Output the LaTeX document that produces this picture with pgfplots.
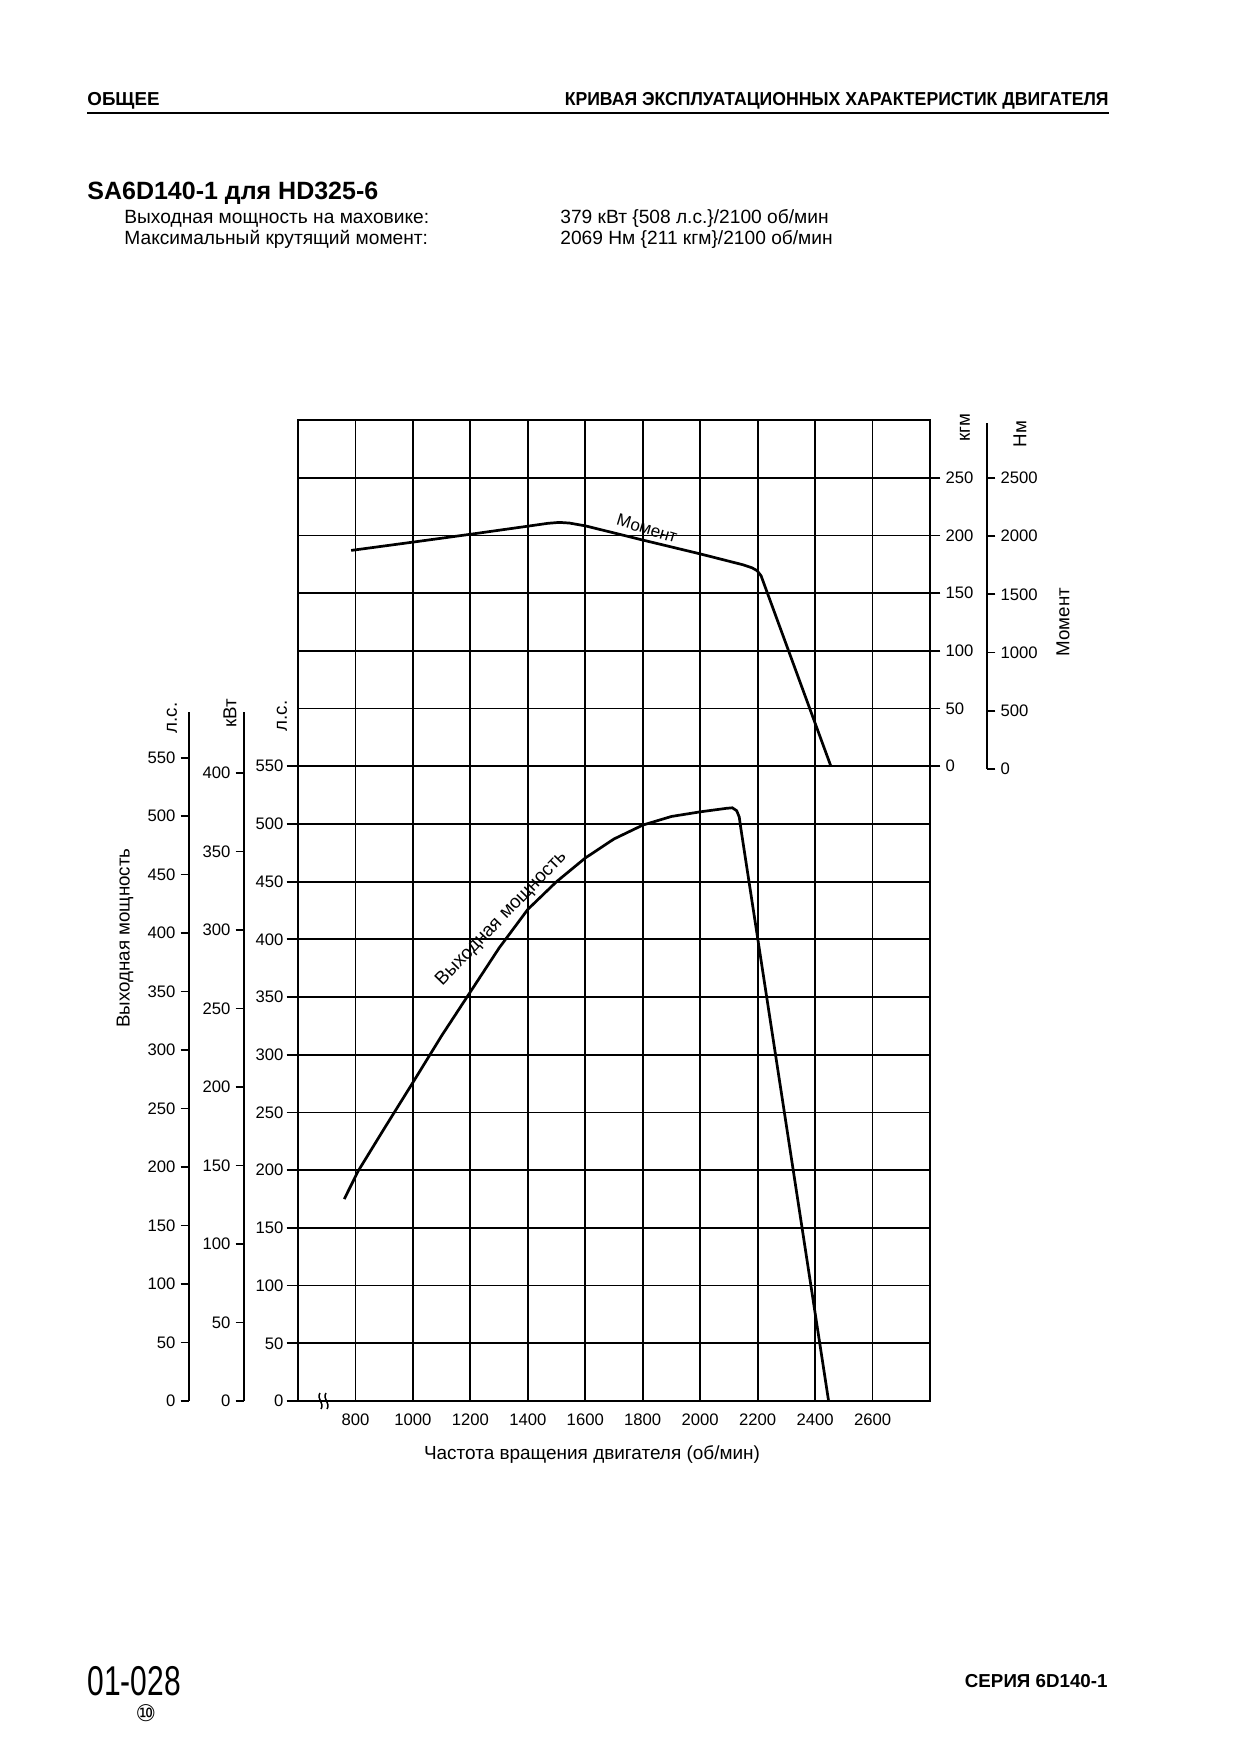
\documentclass[border=0pt]{standalone}
\usepackage{fontspec}
\setmainfont{Liberation Sans}
\newfontfamily\condf[FakeStretch=0.72]{Liberation Sans}
\newfontfamily\hdrR[FakeStretch=0.94]{Liberation Sans}
\newfontfamily\djv{DejaVu Sans}
\usepackage{pgfplots}
\pgfplotsset{compat=1.18}

\pgfplotstableread{
rpm hp
761 175
810 199.5
900 236
1000 276
1100 316.5
1200 354.5
1300 392.5
1400 426
1500 450
1600 470.5
1700 487
1800 499
1900 506.5
2000 510.5
2090 513.5
2112 514
2127 511.5
2136 506
2141 497
2447 0
}\powertable

\pgfplotstableread{
rpm kgm
785 187
1000 194.2
1200 201
1400 208
1470 210.5
1510 211.3
1545 210.7
1600 208.3
1800 196
2000 184
2150 174.5
2180 172
2198 169.5
2212 165
2455 0
}\torquetable

\begin{document}
\begin{tikzpicture}
\begin{scope}[x=0.48pt,y=-0.48pt,every node/.style={inner sep=0pt}]
\path[use as bounding box, fill=white] (0,0) rectangle (1240,1754);
\coordinate (M) at (298,1401);
\coordinate (H) at (189,1401);
\coordinate (K) at (244,1401);
\coordinate (N) at (987,769);
% header
\node[anchor=base west, font=\bfseries\fontsize{9}{11}\selectfont] at (87,105) {ОБЩЕЕ};
\node[anchor=base east, font=\hdrR\bfseries\fontsize{9}{11}\selectfont] at (1109,105) {КРИВАЯ ЭКСПЛУАТАЦИОННЫХ ХАРАКТЕРИСТИК ДВИГАТЕЛЯ};
\draw[line width=1.3pt] (87,113) -- (1109,113);
% title
\node[anchor=base west, font=\bfseries\fontsize{12}{14}\selectfont] at (87,199) {SA6D140-1 для HD325-6};
\node[anchor=base west, font=\fontsize{9.2}{11}\selectfont] at (124,223) {Выходная мощность на маховике:};
\node[anchor=base west, font=\fontsize{9.2}{11}\selectfont] at (124,244) {Максимальный крутящий момент:};
\node[anchor=base west, font=\fontsize{9.2}{11}\selectfont] at (560,223) {379 кВт \{508 л.с.\}/2100 об/мин};
\node[anchor=base west, font=\fontsize{9.2}{11}\selectfont] at (560,244) {2069 Нм \{211 кгм\}/2100 об/мин};
% footer
\node[anchor=base west, font=\condf\fontsize{20}{22}\selectfont] at (87,1695) {01-028};
\node[font=\djv\fontsize{11}{12}\selectfont] at (146,1713) {⑩};
\node[anchor=base east, font=\bfseries\fontsize{9}{11}\selectfont] at (1108,1687) {СЕРИЯ 6D140-1};
% rotated axis titles
\node[rotate=90, font=\fontsize{9}{11}\selectfont] at (125,938) {Выходная мощность};
\node[rotate=90, font=\fontsize{9}{11}\selectfont] at (172,718) {л.с.};
\node[rotate=90, font=\fontsize{9}{11}\selectfont] at (230,713) {кВт};
\node[rotate=90, font=\fontsize{9}{11}\selectfont] at (282,716) {л.с.};
\node[rotate=90, font=\fontsize{9}{11}\selectfont] at (965,428) {кгм};
\node[rotate=90, font=\fontsize{9}{11}\selectfont] at (1020,434) {Нм};
\node[rotate=90, font=\fontsize{9}{11}\selectfont] at (1063,622) {Момент};
\node[font=\fontsize{9.1}{11}\selectfont] at (592,1454) {Частота вращения двигателя (об/мин)};
% axis break
\draw[line width=0.7pt] (320,1393) .. controls (316,1399) and (325,1403) .. (321,1409);
\draw[line width=0.7pt] (326,1393) .. controls (322,1399) and (331,1403) .. (327,1409);
\end{scope}

% main grid axis (hp)
\begin{axis}[
  at={(M)}, anchor=south west,
  scale only axis, width=303.36pt, height=470.88pt,
  xmin=600, xmax=2800, ymin=0, ymax=850,
  xtick={800,1000,...,2600},
  ytick={0,50,...,550},
  extra y ticks={600,650,...,800},
  extra y tick labels={},
  extra y tick style={grid=major, major tick length=0pt},
  grid=major,
  major grid style={black, line width=0.85pt},
  axis line style={black, line width=0.85pt},
  tick align=outside,
  xtick pos=bottom, ytick pos=left,
  major tick length=5.5pt,
  xtick style={draw=none},
  ytick style={black, line width=0.85pt},
  tick label style={font=\fontsize{8}{9}\selectfont},
  xticklabel style={yshift=3pt},
  yticklabel style={xshift=2pt},
  /pgf/number format/assume math mode=true,
  /pgf/number format/set thousands separator={},
  clip=false,
]
\addplot[black, line width=1.3pt] table[x=rpm, y=hp] {\powertable};
\node[rotate=46, font=\fontsize{9}{11}\selectfont] at (axis cs:1308,418) {Выходная мощность};
\end{axis}

% torque axis (kgm) on the right border
\begin{axis}[
  at={(M)}, anchor=south west,
  scale only axis, width=303.36pt, height=470.88pt,
  xmin=600, xmax=2800, ymin=-550, ymax=300,
  hide x axis, axis y line*=right,
  axis line style={black, line width=0.85pt, -},
  ytick={0,50,...,250},
  tick align=outside, major tick length=5pt,
  ytick style={black, line width=0.85pt},
  tick label style={font=\fontsize{8}{9}\selectfont},
  yticklabel style={xshift=-1pt},
  /pgf/number format/assume math mode=true,
  clip=false,
]
\addplot[black, line width=1.3pt] table[x=rpm, y=kgm] {\torquetable};
\node[rotate=-17, font=\fontsize{8.2}{10}\selectfont] at (axis cs:1815,206) {Момент};
\end{axis}

% outer hp axis
\begin{axis}[
  at={(H)}, anchor=south west,
  scale only axis, width=1pt, height=330.72pt,
  xmin=0, xmax=1, ymin=0, ymax=589,
  hide x axis, axis y line*=left,
  axis line style={black, line width=0.85pt, -},
  ytick={0,50,...,550},
  tick align=outside, major tick length=4pt,
  ytick style={black, line width=0.85pt},
  tick label style={font=\fontsize{8}{9}\selectfont},
  yticklabel style={xshift=1pt},
  /pgf/number format/assume math mode=true,
]
\end{axis}

% kW axis
\begin{axis}[
  at={(K)}, anchor=south west,
  scale only axis, width=1pt, height=330.72pt,
  xmin=0, xmax=1, ymin=0, ymax=438.9,
  hide x axis, axis y line*=left,
  axis line style={black, line width=0.85pt, -},
  ytick={0,50,...,400},
  tick align=outside, major tick length=4pt,
  ytick style={black, line width=0.85pt},
  tick label style={font=\fontsize{8}{9}\selectfont},
  yticklabel style={xshift=1pt},
  /pgf/number format/assume math mode=true,
]
\end{axis}

% Nm axis
\begin{axis}[
  at={(N)}, anchor=south east,
  scale only axis, width=1pt, height=166.08pt,
  xmin=0, xmax=1, ymin=0, ymax=2972,
  hide x axis, axis y line*=right,
  axis line style={black, line width=0.85pt, -},
  ytick={0,500,...,2500},
  tick align=outside, major tick length=4pt,
  ytick style={black, line width=0.85pt},
  tick label style={font=\fontsize{8}{9}\selectfont},
  yticklabel style={xshift=-1pt},
  /pgf/number format/assume math mode=true,
  /pgf/number format/set thousands separator={},
]
\end{axis}
\end{tikzpicture}
\end{document}
